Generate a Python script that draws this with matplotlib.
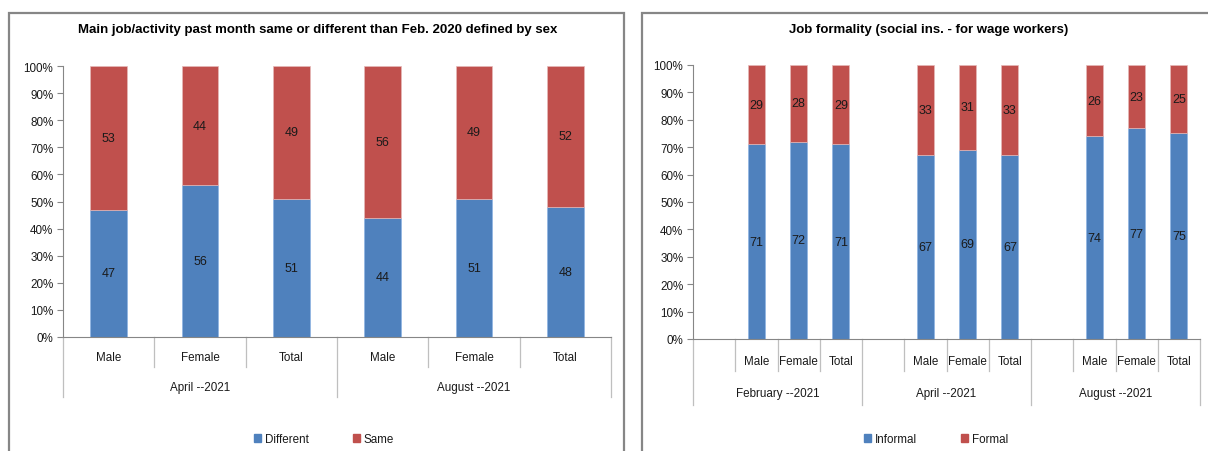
import matplotlib
matplotlib.use("Agg")
import matplotlib.pyplot as plt
from matplotlib.patches import Rectangle, Patch
import numpy as np

plt.rcParams['font.family'] = ['Liberation Sans', 'DejaVu Sans']

# ---- data ----
left_title = "Main job/activity past month same or different than Feb. 2020 defined by sex"
left_groups = ["April --2021", "August --2021"]
left_cats = ["Male", "Female", "Total"]
different = [47, 56, 51, 44, 51, 48]
same = [53, 44, 49, 56, 49, 52]

right_title = "Job formality (social ins. - for wage workers)"
right_groups = ["February --2021", "April --2021", "August --2021"]
right_cats = ["", "Male", "Female", "Total"]
informal = [71, 72, 71, 67, 69, 67, 74, 77, 75]
formal = [29, 28, 29, 33, 31, 33, 26, 23, 25]

BLUE = "#4F81BD"
RED = "#C0504D"
GRAY = "#868686"
TXT = "#1A1A1A"
FS = 8.4
W, H = 1208, 452

fig = plt.figure(figsize=(W / 100, H / 100), dpi=100)
fig.patch.set_facecolor("white")


def add_ax(x0, x1, top, bottom):
    return fig.add_axes([x0 / W, 1 - bottom / H, (x1 - x0) / W, (bottom - top) / H])


def style(ax):
    for s in ("top", "right"):
        ax.spines[s].set_visible(False)
    for s in ("left", "bottom"):
        ax.spines[s].set_color(GRAY)
        ax.spines[s].set_linewidth(0.8)
    ax.set_ylim(0, 100)
    ax.set_yticks(np.arange(0, 101, 10))
    ax.set_yticklabels([f"{v}%" for v in range(0, 101, 10)])
    ax.tick_params(axis="y", length=4, color=GRAY, labelsize=FS, pad=3, labelcolor=TXT)
    ax.tick_params(axis="x", length=0, labelbottom=False)


def divider(ax, x, depth_px, hpx):
    ax.plot([x, x], [0, -depth_px / hpx], transform=ax.get_xaxis_transform(),
            clip_on=False, color="#BFBFBF", lw=0.9)


def label(ax, x, below_px, txt, hpx):
    ax.text(x, -below_px / hpx, txt, transform=ax.get_xaxis_transform(),
            ha="center", va="center", fontsize=FS, color=TXT)


# ---- left chart ----
lt, lb = 67, 338
lh = lb - lt
axl = add_ax(63, 611, lt, lb)
xl = np.arange(len(different))
b1 = axl.bar(xl, different, width=0.4, color=BLUE, edgecolor="#8EB4E3", linewidth=0.5)
b2 = axl.bar(xl, same, width=0.4, bottom=different, color=RED, edgecolor="#E6B9B8", linewidth=0.5)
axl.bar_label(b1, labels=[str(v) for v in different], label_type="center", fontsize=9, color=TXT)
axl.bar_label(b2, labels=[str(v) for v in same], label_type="center", fontsize=9, color=TXT)
axl.set_xlim(-0.5, len(different) - 0.5)
style(axl)
n = len(left_cats)
for g, gname in enumerate(left_groups):
    for i, c in enumerate(left_cats):
        label(axl, g * n + i, 20, c, lh)
        if i < n - 1:
            divider(axl, g * n + i + 0.5, 30, lh)
    label(axl, g * n + (n - 1) / 2, 50, gname, lh)
for g in range(len(left_groups) + 1):
    divider(axl, g * n - 0.5, 60, lh)

# ---- right chart ----
rt, rb = 66, 340
rh = rb - rt
axr = add_ax(693, 1200, rt, rb)
m = len(right_cats)
xr = [g * m + i for g in range(len(right_groups)) for i in range(1, m)]
c1 = axr.bar(xr, informal, width=0.4, color=BLUE, edgecolor="#8EB4E3", linewidth=0.5)
c2 = axr.bar(xr, formal, width=0.4, bottom=informal, color=RED, edgecolor="#E6B9B8", linewidth=0.5)
axr.bar_label(c1, labels=[str(v) for v in informal], label_type="center", fontsize=9, color=TXT)
axr.bar_label(c2, labels=[str(v) for v in formal], label_type="center", fontsize=9, color=TXT)
axr.set_xlim(-0.5, len(right_groups) * m - 0.5)
style(axr)
for g, gname in enumerate(right_groups):
    for i, c in enumerate(right_cats):
        if c:
            label(axr, g * m + i, 22, c, rh)
        if i < m - 1:
            divider(axr, g * m + i + 0.5, 32, rh)
    label(axr, g * m + (m - 1) / 2, 54, gname, rh)
for g in range(len(right_groups) + 1):
    divider(axr, g * m - 0.5, 66, rh)

# ---- titles ----
fig.text(318 / W, 1 - 30 / H, left_title, ha="center", va="center",
         fontsize=9.5, fontweight="bold", color="black")
fig.text(929 / W, 1 - 30 / H, right_title, ha="center", va="center",
         fontsize=9.5, fontweight="bold", color="black")

# ---- legends ----
for center, names in ((324, ["Different", "Same"]), (936, ["Informal", "Formal"])):
    handles = [Patch(facecolor=BLUE, edgecolor=BLUE), Patch(facecolor=RED, edgecolor=RED)]
    fig.legend(handles, names, loc="center", bbox_to_anchor=(center / W, 1 - 440 / H),
               ncol=2, frameon=False, fontsize=FS, handlelength=0.6, handleheight=0.6,
               handletextpad=0.3, columnspacing=3.8, labelcolor=TXT)

# ---- frames ----
fig.patches.append(Rectangle((9 / W, -0.1), (624 - 9) / W, 1.1 - 14 / H,
                             transform=fig.transFigure, fill=False,
                             edgecolor=GRAY, linewidth=1.6))
fig.patches.append(Rectangle((642 / W, -0.1), 0.5, 1.1 - 14 / H,
                             transform=fig.transFigure, fill=False,
                             edgecolor=GRAY, linewidth=1.6))

fig.savefig("out.png", dpi=100, facecolor="white")
